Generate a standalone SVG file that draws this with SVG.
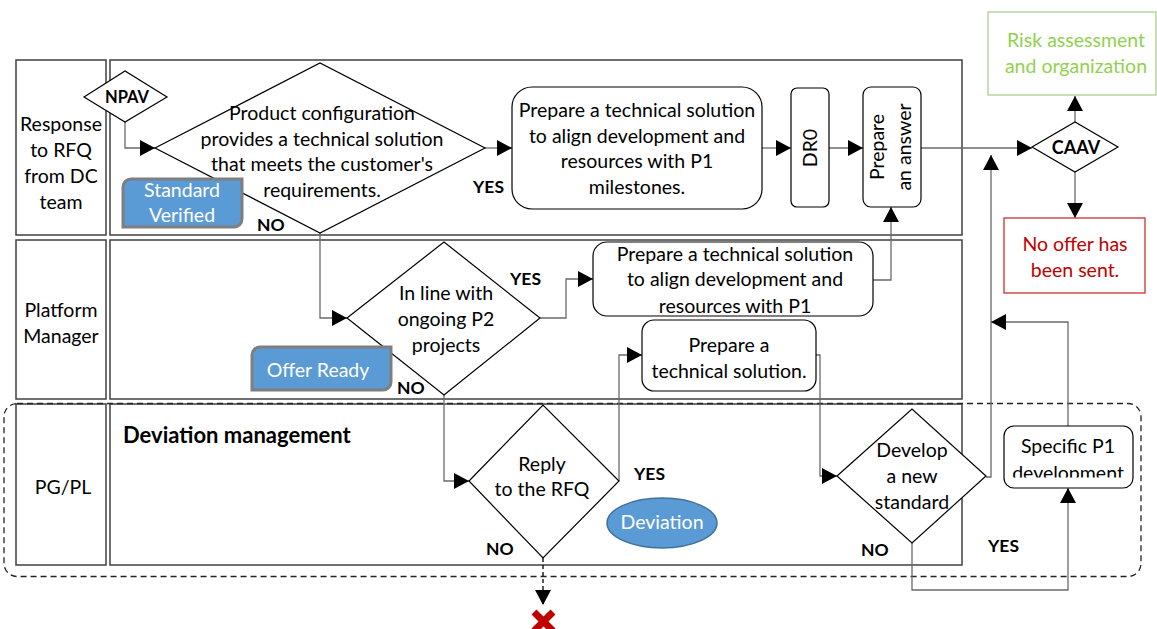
<svg xmlns="http://www.w3.org/2000/svg" width="1157" height="629" viewBox="0 0 1157 629">
<style>
.lane{fill:#fff;stroke:#404040;stroke-width:1.5}
.shape{fill:#fff;stroke:#000;stroke-width:1.2}
.conn{fill:none;stroke:#6a6a6a;stroke-width:1.3}
.t{font-family:Lato,"Liberation Sans",sans-serif;font-size:19.5px;fill:#000;text-anchor:middle}
.b{font-family:Lato,"Liberation Sans",sans-serif;font-size:17.5px;font-weight:bold;fill:#000}
.w{fill:#fff}
.tag{fill:#5b9bd5;stroke:#7f7f7f;stroke-width:3}
</style>
<defs>
<marker id="ah" viewBox="0 0 15 16" refX="15" refY="8" markerWidth="15" markerHeight="16" markerUnits="userSpaceOnUse" orient="auto"><path d="M0,0 L15,8 L0,16 z" fill="#000"/></marker>
<clipPath id="clipSpec"><rect x="1004" y="426" width="130" height="51.5"/></clipPath>
</defs>
<rect width="1157" height="629" fill="#fff"/>
<g id="lanes">
<rect class="lane" x="16" y="60" width="90" height="175"/>
<rect class="lane" x="110" y="60" width="852" height="175"/>
<rect class="lane" x="16" y="240" width="90" height="159"/>
<rect class="lane" x="110" y="240" width="852" height="159"/>
<rect class="lane" x="16" y="404" width="90" height="161"/>
<rect class="lane" x="110" y="404" width="852" height="161"/>
<text class="t"><tspan x="61" y="131">Response</tspan><tspan x="61" y="157">to RFQ</tspan><tspan x="61" y="183">from DC</tspan><tspan x="61" y="209">team</tspan></text>
<text class="t"><tspan x="61" y="317">Platform</tspan><tspan x="61" y="343">Manager</tspan></text>
<text class="t" x="63" y="494">PG/PL</text>
</g>
<g id="deviation-group">
<rect x="4" y="403.5" width="1137" height="173" rx="13" fill="none" stroke="#222" stroke-width="1.3" stroke-dasharray="6,4"/>
<text class="b" x="123" y="443" style="font-size:22px">Deviation management</text>
</g>
<g id="connectors">
<path class="conn" d="M125,122 V148 H155" marker-end="url(#ah)"/>
<path class="conn" d="M485,148 H512" marker-end="url(#ah)"/>
<path class="conn" d="M762,148 H791" marker-end="url(#ah)"/>
<path class="conn" d="M829,148 H863" marker-end="url(#ah)"/>
<path class="conn" d="M921,148 H1032" marker-end="url(#ah)"/>
<path class="conn" d="M1075,122 V96" marker-end="url(#ah)"/>
<path class="conn" d="M1075,172 V218" marker-end="url(#ah)"/>
<path class="conn" d="M320,233 V318 H347" marker-end="url(#ah)"/>
<path class="conn" d="M540,318 H566 V279 H593" marker-end="url(#ah)"/>
<path class="conn" d="M873,280 H891 V207" marker-end="url(#ah)"/>
<path class="conn" d="M444,395 V481 H469" marker-end="url(#ah)"/>
<path class="conn" d="M619,481 V355 H642" marker-end="url(#ah)"/>
<path class="conn" d="M816,355 H820 V476 H837" marker-end="url(#ah)"/>
<path class="conn" d="M986,477 H991 V155" marker-end="url(#ah)"/>
<path class="conn" d="M912,543 V590 H1068 V488" marker-end="url(#ah)"/>
<path class="conn" d="M1068,426 V322 H991" marker-end="url(#ah)"/>
<path d="M543,558 V605" fill="none" stroke="#000" stroke-width="1.3" stroke-dasharray="4,3" marker-end="url(#ah)"/>
<text class="b" x="473" y="193">YES</text>
<text class="b" x="257" y="231">NO</text>
<text class="b" x="510" y="285">YES</text>
<text class="b" x="397" y="394">NO</text>
<text class="b" x="634" y="480">YES</text>
<text class="b" x="486" y="555">NO</text>
<text class="b" x="861" y="556">NO</text>
<text class="b" x="988" y="552">YES</text>
</g>
<g id="npav">
<polygon class="shape" points="84,97 125,71 167,97 125,122"/>
<text class="b" x="127" y="103" text-anchor="middle" style="font-size:16.5px">NPAV</text>
</g>
<g id="product-config">
<polygon class="shape" points="155,148 320,63 485,148 320,233"/>
<text class="t"><tspan x="322" y="120">Product configuration</tspan><tspan x="322" y="146">provides a technical solution</tspan><tspan x="322" y="171">that meets the customer's</tspan><tspan x="322" y="197">requirements.</tspan></text>
</g>
<g id="prepare-p1-milestones">
<rect class="shape" x="512" y="87" width="250" height="122" rx="20"/>
<text class="t"><tspan x="637" y="117">Prepare a technical solution</tspan><tspan x="637" y="143">to align development and</tspan><tspan x="637" y="168">resources with P1</tspan><tspan x="637" y="194">milestones.</tspan></text>
</g>
<g id="dr0">
<rect class="shape" x="791" y="88" width="38" height="119" rx="6"/>
<text class="t" transform="translate(817,148) rotate(-90)" x="0" y="0">DR0</text>
</g>
<g id="prepare-answer">
<rect class="shape" x="863" y="87" width="58" height="120" rx="8"/>
<text class="t" transform="translate(884,147) rotate(-90)"><tspan x="0" y="0">Prepare</tspan><tspan x="0" y="27">an answer</tspan></text>
</g>
<g id="caav">
<polygon class="shape" points="1032,147 1075,122 1118,147 1075,172"/>
<text class="b" x="1076" y="154" text-anchor="middle" style="font-size:18px">CAAV</text>
</g>
<g id="risk">
<rect x="988" y="12" width="168" height="83" fill="#fff" stroke="#a9d18e" stroke-width="1.3"/>
<text class="t" style="fill:#92d050"><tspan x="1076" y="47">Risk assessment</tspan><tspan x="1076" y="73">and organization</tspan></text>
</g>
<g id="no-offer">
<rect x="1004" y="218" width="141" height="75" fill="#fff" stroke="#d03030" stroke-width="1.3"/>
<text class="t" style="fill:#c00000"><tspan x="1075" y="251">No offer has</tspan><tspan x="1075" y="277">been sent.</tspan></text>
</g>
<g id="standard-verified">
<path class="tag" d="M131,179 H242 V219 A8,8 0 0 1 234,227 H123 V187 A8,8 0 0 1 131,179 Z"/>
<text class="t w"><tspan x="182" y="197">Standard</tspan><tspan x="182" y="222">Verified</tspan></text>
</g>
<g id="in-line-p2">
<polygon class="shape" points="347,318 444,242 540,318 444,395"/>
<text class="t"><tspan x="446" y="300">In line with</tspan><tspan x="446" y="326">ongoing P2</tspan><tspan x="446" y="352">projects</tspan></text>
</g>
<g id="prepare-p1">
<rect class="shape" x="593" y="242" width="280" height="74" rx="14"/>
<text class="t"><tspan x="735" y="261">Prepare a technical solution</tspan><tspan x="735" y="286">to align development and</tspan><tspan x="735" y="313">resources with P1</tspan></text>
</g>
<g id="offer-ready">
<path class="tag" d="M260,347 H391 V382 A8,8 0 0 1 383,390 H252 V355 A8,8 0 0 1 260,347 Z"/>
<text class="t w" x="318" y="377">Offer Ready</text>
</g>
<g id="prepare-tech">
<rect class="shape" x="642" y="320" width="174" height="71" rx="12"/>
<text class="t"><tspan x="729" y="352">Prepare a</tspan><tspan x="729" y="378">technical solution.</tspan></text>
</g>
<g id="reply-rfq">
<polygon class="shape" points="469,481 543,405 619,481 543,558"/>
<text class="t"><tspan x="542" y="471">Reply</tspan><tspan x="542" y="496">to the RFQ</tspan></text>
</g>
<g id="deviation">
<ellipse cx="662" cy="523" rx="55" ry="25" fill="#5b9bd5" stroke="#41719c" stroke-width="1.5"/>
<text class="t w" x="662" y="529">Deviation</text>
</g>
<g id="develop-standard">
<polygon class="shape" points="837,476 912,409 986,476 912,543"/>
<text class="t"><tspan x="912" y="457">Develop</tspan><tspan x="912" y="483">a new</tspan><tspan x="912" y="509">standard</tspan></text>
</g>
<g id="specific-p1">
<rect class="shape" x="1004" y="426" width="129" height="62" rx="10"/>
<text class="t" clip-path="url(#clipSpec)"><tspan x="1068" y="453">Specific P1</tspan><tspan x="1068" y="480">development</tspan></text>
</g>
<g id="end-x">
<path d="M534,612 L553,631 M553,612 L534,631" stroke="#c00000" stroke-width="7" stroke-linecap="butt"/>
</g>
</svg>
